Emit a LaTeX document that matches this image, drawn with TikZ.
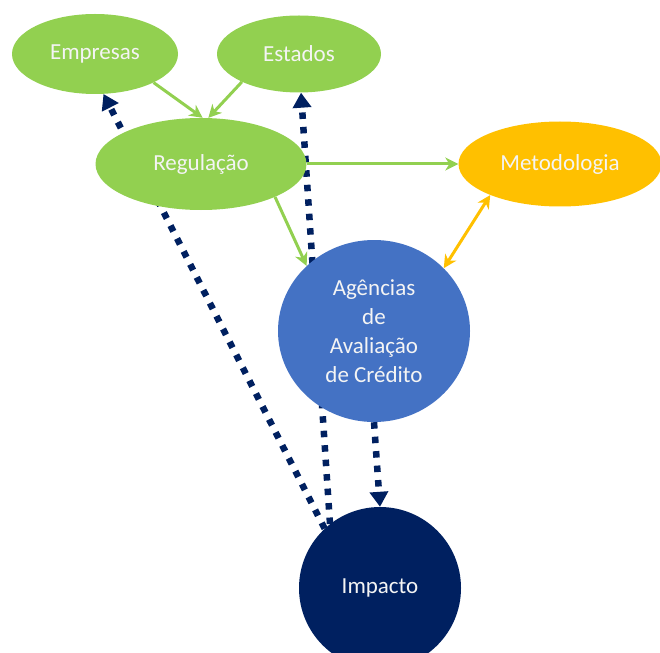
\documentclass[tikz,border=0pt]{standalone}
\usepackage{fontspec}
\setmainfont{Carlito}
\usetikzlibrary{arrows.meta,shapes.geometric,backgrounds}
\definecolor{cgreen}{HTML}{92D050}
\definecolor{corange}{HTML}{FFC000}
\definecolor{cblue}{HTML}{4472C4}
\definecolor{cnavy}{HTML}{002060}
\definecolor{ctext}{HTML}{F4F4F4}
\tikzset{
  bubble/.style={ellipse, inner sep=0pt, text=ctext, align=center,
    font=\fontsize{23}{29}\selectfont},
  greenarrow/.style={draw=cgreen, line width=3pt,
    -{Stealth[length=13pt,width=13pt,inset=4pt]}},
  orangearrow/.style={draw=corange, line width=3pt,
    {Stealth[length=13pt,width=13pt,inset=4pt]}-{Stealth[length=13pt,width=13pt,inset=4pt]}},
  dotarrow/.style={draw=cnavy, line width=6.5pt, dash pattern=on 6.5pt off 8pt,
    -{Triangle[length=15pt,width=18pt]}},
}
\begin{document}
\begin{tikzpicture}[x=1pt,y=-1pt]
\useasboundingbox (0,0) rectangle (660,652);
\clip (0,0) rectangle (660,652);
% nodes
\node[bubble, fill=cgreen, minimum width=166pt, minimum height=80pt] (emp) at (95,54) {Empresas};
\node[bubble, fill=cgreen, minimum width=164pt, minimum height=77pt] (est) at (299,54) {Estados};
\node[bubble, fill=cgreen, minimum width=211pt, minimum height=92pt] (reg) at (201,164) {Regulação};
\node[bubble, fill=corange, minimum width=203pt, minimum height=85pt] (met) at (560,164) {Metodologia};
\node[bubble, fill=cblue, minimum width=192pt, minimum height=182pt] (ag) at (374,331) {Agências\\de\\Avaliação\\de Crédito};
\node[bubble, fill=cnavy, minimum width=162pt, minimum height=162pt] (imp) at (380,588) {Impacto};
% dotted connectors behind the nodes
\begin{pgfonlayer}{background}
\draw[dotarrow] (imp.133) -- (emp.-78);
\draw[dotarrow] (imp.128) -- (est.-87);
\end{pgfonlayer}
% green connectors
\draw[greenarrow] (emp.-26) -- (reg.88);
\draw[greenarrow] (est.206) -- (reg.81);
\draw[greenarrow] (reg.east) -- (met.west);
\draw[greenarrow] (reg.-24) -- (ag.136);
\draw[orangearrow] (met.204) -- (ag.42);
\draw[dotarrow] (ag.south) -- (imp.north);
\end{tikzpicture}
\end{document}
